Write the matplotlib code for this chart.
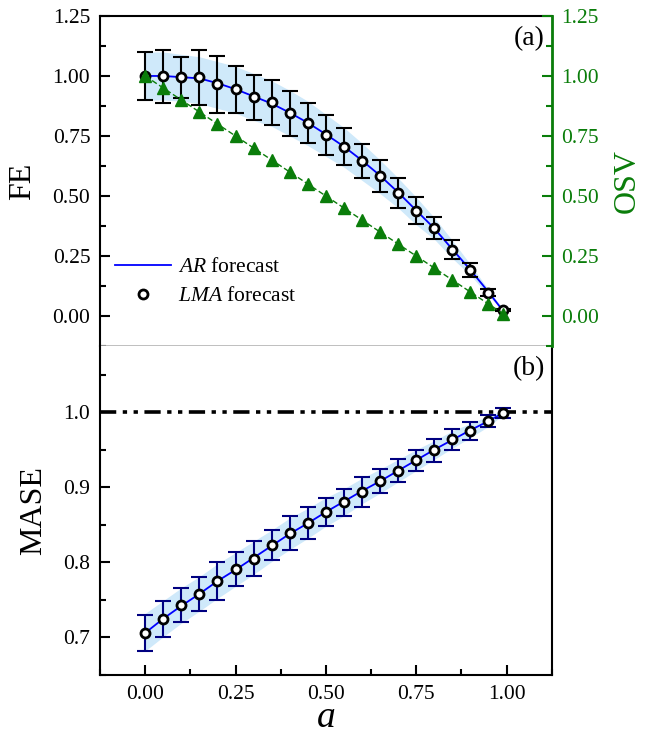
import matplotlib
matplotlib.use('Agg')
from matplotlib import pyplot as plt
from matplotlib.ticker import MultipleLocator, FormatStrFormatter

plt.rcParams['font.family'] = ['Liberation Serif', 'DejaVu Serif']
plt.rcParams['mathtext.fontset'] = 'custom'
plt.rcParams['mathtext.rm'] = 'Liberation Serif'
plt.rcParams['mathtext.it'] = 'Liberation Serif:italic'

# values
a = [0.00, 0.05, 0.10, 0.15, 0.20, 0.25, 0.30, 0.35, 0.40, 0.45, 0.50,
     0.55, 0.60, 0.65, 0.70, 0.75, 0.80, 0.85, 0.90, 0.95, 0.99]

fe_lma = [1.000, 0.999, 0.994, 0.994, 0.965, 0.944, 0.912, 0.890, 0.845, 0.804, 0.755,
          0.706, 0.646, 0.584, 0.513, 0.439, 0.366, 0.277, 0.192, 0.097, 0.024]
fe_err = [0.100, 0.110, 0.084, 0.115, 0.119, 0.098, 0.094, 0.095, 0.094, 0.084, 0.084,
          0.076, 0.071, 0.066, 0.063, 0.056, 0.046, 0.038, 0.028, 0.015, 0.005]
fe_ar = [1.000, 1.000, 0.995, 0.990, 0.970, 0.945, 0.915, 0.885, 0.847, 0.805, 0.757,
         0.706, 0.648, 0.585, 0.515, 0.440, 0.365, 0.278, 0.192, 0.100, 0.022]
fe_band_hi = [1.100, 1.100, 1.090, 1.080, 1.060, 1.040, 1.010, 0.980, 0.940, 0.895, 0.840,
              0.785, 0.720, 0.650, 0.575, 0.495, 0.410, 0.315, 0.215, 0.110, 0.030]
fe_band_lo = [0.900, 0.900, 0.895, 0.885, 0.865, 0.845, 0.815, 0.790, 0.750, 0.710, 0.665,
              0.620, 0.565, 0.510, 0.450, 0.380, 0.320, 0.240, 0.170, 0.085, 0.020]

osv = [1.00, 0.95, 0.90, 0.85, 0.80, 0.75, 0.70, 0.65, 0.60, 0.55, 0.50,
       0.45, 0.40, 0.35, 0.30, 0.25, 0.20, 0.15, 0.10, 0.05, 0.01]

mase_lma = [0.706, 0.725, 0.743, 0.758, 0.775, 0.791, 0.805, 0.823, 0.839, 0.852, 0.867,
            0.880, 0.894, 0.908, 0.922, 0.936, 0.949, 0.964, 0.975, 0.988, 0.999]
mase_err = [0.024, 0.024, 0.023, 0.023, 0.025, 0.023, 0.023, 0.020, 0.023, 0.021, 0.018,
            0.018, 0.020, 0.016, 0.015, 0.014, 0.015, 0.014, 0.012, 0.008, 0.007]
mase_ar = [0.706, 0.725, 0.742, 0.758, 0.775, 0.790, 0.806, 0.822, 0.838, 0.852, 0.867,
           0.881, 0.895, 0.908, 0.922, 0.936, 0.950, 0.963, 0.976, 0.988, 0.999]
mase_band_hi = [0.732, 0.749, 0.766, 0.781, 0.798, 0.813, 0.828, 0.843, 0.859, 0.872, 0.886,
                0.898, 0.912, 0.924, 0.937, 0.950, 0.962, 0.975, 0.985, 0.995, 1.002]
mase_band_lo = [0.682, 0.701, 0.719, 0.735, 0.752, 0.768, 0.784, 0.801, 0.817, 0.832, 0.848,
                0.862, 0.878, 0.892, 0.907, 0.922, 0.937, 0.952, 0.966, 0.981, 0.996]

band_col = '#cfe9fa'
green = '#0a7d0a'

fig = plt.figure(figsize=(6.49, 7.39), dpi=100)
ax1 = fig.add_axes([0.1541, 0.5318, 0.696, 0.4466])
ax2 = fig.add_axes([0.1541, 0.0866, 0.696, 0.4452])

# (a) FE and OSV
ax1.fill_between(a, fe_band_lo, fe_band_hi, color=band_col, lw=0, zorder=1)
ax1.plot(a, fe_ar, color='#0000ff', lw=1.3, zorder=2, label=r'$AR$ forecast')
ax1.errorbar(a, fe_lma, yerr=fe_err, fmt='none', ecolor='black', elinewidth=1.5,
             capsize=5.5, capthick=1.5, zorder=3)
ax1.plot(a, fe_lma, 'o', ms=6.5, mfc='white', mec='black', mew=2, zorder=4,
         label=r'$LMA$ forecast')
ax1.set_xlim(-0.125, 1.125)
ax1.set_ylim(-0.125, 1.25)
ax1.yaxis.set_major_locator(MultipleLocator(0.25))
ax1.yaxis.set_minor_locator(MultipleLocator(0.125))
ax1.yaxis.set_major_formatter(FormatStrFormatter('%.2f'))
ax1.tick_params(axis='y', which='both', direction='in', width=1.5, labelsize=15.5, pad=7)
ax1.tick_params(axis='y', which='major', length=7)
ax1.tick_params(axis='y', which='minor', length=4)
ax1.tick_params(axis='x', which='both', bottom=False, labelbottom=False)
ax1.set_ylabel('FE', fontsize=23)
ax1.yaxis.set_label_coords(-0.14, 0.5)
for s in ['left', 'top']:
    ax1.spines[s].set_linewidth(1.5)
ax1.spines['bottom'].set_color('#b4b4b4')
ax1.spines['bottom'].set_linewidth(1.2)
ax1.legend(loc='upper left', bbox_to_anchor=(0.0, 0.315), frameon=False, fontsize=15.5,
           handlelength=2.6, handletextpad=0.3, labelspacing=0.42, borderaxespad=0.3)
ax1.text(0.985, 0.97, '(a)', transform=ax1.transAxes, ha='right', va='top', fontsize=20)

axr = ax1.twinx()
axr.plot(a, osv, '^--', color=green, ms=8.5, lw=1.0, dashes=(4, 2))
axr.set_ylim(-0.125, 1.25)
axr.yaxis.set_major_locator(MultipleLocator(0.25))
axr.yaxis.set_minor_locator(MultipleLocator(0.125))
axr.yaxis.set_major_formatter(FormatStrFormatter('%.2f'))
axr.tick_params(axis='y', which='both', direction='in', width=1.5, color=green,
                labelcolor=green, labelsize=15.5, pad=7)
axr.tick_params(axis='y', which='major', length=7)
axr.tick_params(axis='y', which='minor', length=4)
axr.spines['right'].set_color(green)
axr.spines['right'].set_linewidth(2)
axr.spines['bottom'].set_visible(False)
axr.spines['left'].set_visible(False)
axr.spines['top'].set_visible(False)
axr.set_ylabel('OSV', fontsize=23, color=green)
axr.yaxis.set_label_coords(1.135, 0.5)

# (b) MASE
ax2.fill_between(a, mase_band_lo, mase_band_hi, color=band_col, lw=0, zorder=1)
ax2.axhline(1.0, color='black', lw=2.6, dashes=(4.5, 1.8, 1.2, 1.8, 1.2, 1.8), zorder=2)
ax2.plot(a, mase_ar, color='#0000ff', lw=1.3, zorder=3)
ax2.errorbar(a, mase_lma, yerr=mase_err, fmt='none', ecolor='#000080', elinewidth=1.5,
             capsize=5.5, capthick=1.5, zorder=4)
ax2.plot(a, mase_lma, 'o', ms=6.5, mfc='white', mec='black', mew=2, zorder=5)
ax2.set_xlim(-0.125, 1.125)
ax2.set_ylim(0.65, 1.088)
ax2.xaxis.set_major_locator(MultipleLocator(0.25))
ax2.xaxis.set_minor_locator(MultipleLocator(0.125))
ax2.xaxis.set_major_formatter(FormatStrFormatter('%.2f'))
ax2.yaxis.set_major_locator(MultipleLocator(0.1))
ax2.yaxis.set_minor_locator(MultipleLocator(0.05))
ax2.yaxis.set_major_formatter(FormatStrFormatter('%.1f'))
ax2.tick_params(which='both', direction='in', width=1.5, labelsize=15.5, pad=7)
ax2.tick_params(which='major', length=7)
ax2.tick_params(which='minor', length=4)
ax2.spines['top'].set_visible(False)
for s in ['left', 'right', 'bottom']:
    ax2.spines[s].set_linewidth(1.5)
ax2.set_ylabel('MASE', fontsize=23)
ax2.yaxis.set_label_coords(-0.115, 0.5)
ax2.set_xlabel(r'$a$', fontsize=27, labelpad=-2)
ax2.text(0.985, 0.97, '(b)', transform=ax2.transAxes, ha='right', va='top', fontsize=20)

plt.savefig('out.png', dpi=100)
